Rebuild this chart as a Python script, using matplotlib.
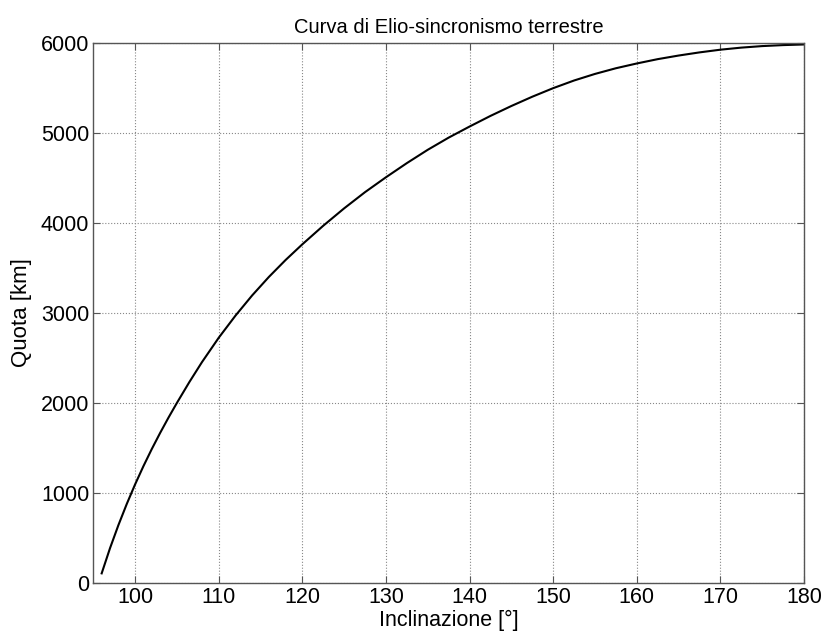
import matplotlib
matplotlib.use("Agg")
import matplotlib.pyplot as plt

# Sun-synchronous curve, values
inclinazione = [96.0, 97.0, 98.0, 99.0, 100.0, 101.0, 102.0, 103.0, 104.0,
                105.0, 106.5, 108.0, 110.0, 112.0, 114.0, 116.0, 118.0,
                120.0, 122.5, 125.0, 127.5, 130.0, 132.5, 135.0, 137.5,
                140.0, 142.5, 145.0, 147.5, 150.0, 152.5, 155.0, 157.5,
                160.0, 162.5, 165.0, 167.5, 170.0, 172.5, 175.0, 177.5, 180.0]
quota = [110, 390, 645, 880, 1098, 1301, 1491, 1670, 1840,
         2002, 2235, 2455, 2725, 2970, 3195, 3400, 3588,
         3762, 3968, 4161, 4341, 4506, 4663, 4811, 4946,
         5069, 5187, 5297, 5400, 5495, 5580, 5653, 5716,
         5769, 5817, 5857, 5892, 5922, 5945, 5962, 5973, 5980]

x_ticks = [100, 110, 120, 130, 140, 150, 160, 170, 180]
y_ticks = [0, 1000, 2000, 3000, 4000, 5000, 6000]

plt.rcParams['font.family'] = ['Liberation Sans', 'DejaVu Sans']

fig = plt.figure(figsize=(8.25, 6.34), dpi=100)
ax = fig.add_axes([0.1131, 0.080, 0.8614, 0.8527])

ax.plot(inclinazione, quota, color='black', linewidth=1.5)

ax.set_xlim(95, 180)
ax.set_ylim(0, 6000)
ax.set_xticks(x_ticks)
ax.set_yticks(y_ticks)
ax.tick_params(direction='in', top=True, right=True, length=5,
               color='#555555', labelsize=15.5, pad=3)
for s in ax.spines.values():
    s.set_color('#555555')
    s.set_linewidth(1.0)
ax.grid(True, linestyle=':', color='#888888', linewidth=0.8)

ax.set_xlabel('Inclinazione [°]', fontsize=15.5, labelpad=1)
ax.set_ylabel('Quota [km]', fontsize=16, labelpad=6)
ax.set_title('Curva di Elio-sincronismo terrestre', fontsize=14.5, pad=7)

fig.savefig('out.png', dpi=100)
